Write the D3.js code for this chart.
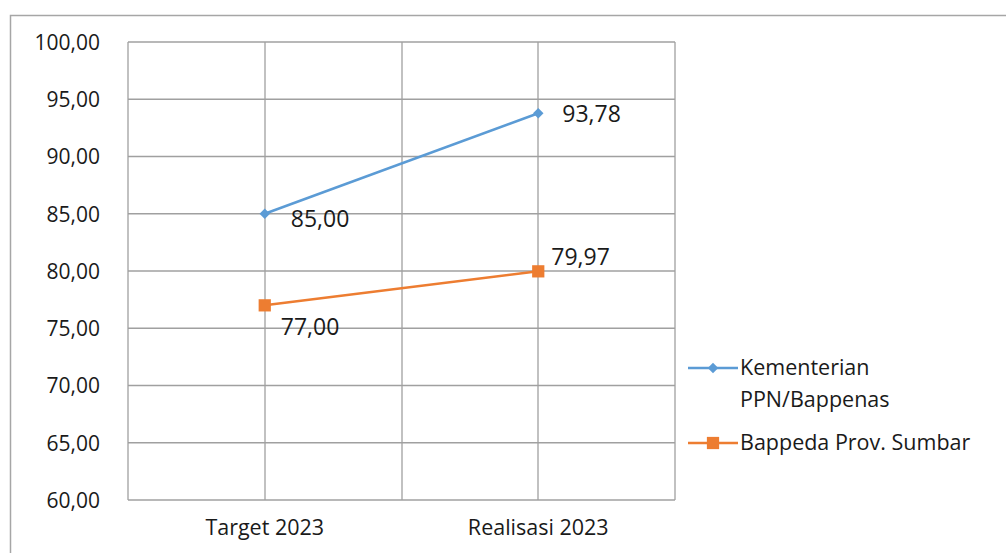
<!DOCTYPE html>
<html>
<head>
<meta charset="utf-8">
<script src="https://cdn.jsdelivr.net/npm/d3@7"></script>
<style>
  html, body { margin: 0; padding: 0; background: #fff; }
  svg { display: block; }
  text { font-family: "Open Sans", "Noto Sans", sans-serif; fill: #1a1a1a; }
</style>
</head>
<body>
<svg id="chart" width="1006" height="553"></svg>
<script>
// Categories and series values
const categories = ["Target 2023", "Realisasi 2023"];
const seriesNames = ["Kementerian PPN/Bappenas", "Bappeda Prov. Sumbar"];
const kementerianValues = [85.00, 93.78];
const bappedaValues = [77.00, 79.97];
const yTicks = [60, 65, 70, 75, 80, 85, 90, 95, 100];

const fmt = v => v.toFixed(2).replace(".", ",");

const svg = d3.select("#chart");
const W = 1006, H = 553;
const plot = { left: 128, right: 675, top: 42, bottom: 500 };

// Outer chart frame (left and top edges)
svg.append("path")
  .attr("d", `M10.5,${H} L10.5,15.5 L${W},15.5`)
  .attr("fill", "none").attr("stroke", "#a6a6a6").attr("stroke-width", 1.5);

const x = d3.scaleBand().domain(categories).range([plot.left, plot.right]).padding(0);
const y = d3.scaleLinear().domain([60, 100]).range([plot.bottom, plot.top]);
const cx = c => x(c) + x.bandwidth() / 2;

const grid = svg.append("g").attr("stroke", "#a0a0a0").attr("stroke-width", 1.3);
// Horizontal gridlines
yTicks.forEach(t => {
  grid.append("line").attr("x1", plot.left).attr("x2", plot.right)
    .attr("y1", y(t)).attr("y2", y(t));
});
// Vertical gridlines: band edges and category centres
const vx = [plot.left, plot.right];
categories.forEach(c => { vx.push(x(c) + x.bandwidth()); vx.push(cx(c)); });
Array.from(new Set(vx.map(Math.round))).forEach(v => {
  grid.append("line").attr("x1", v).attr("x2", v)
    .attr("y1", plot.top).attr("y2", plot.bottom);
});

// Y axis labels
const yAxis = d3.axisLeft(y).tickValues(yTicks).tickFormat(fmt).tickSize(0).tickPadding(0);
const yg = svg.append("g").attr("transform", `translate(${plot.left - 28},0)`).call(yAxis);
yg.select(".domain").remove();
yg.selectAll("text").style("font-size", "21px").attr("fill", "#1a1a1a")
  .attr("font-family", null).attr("dy", "0.35em");

// X axis labels
const xAxis = d3.axisBottom(x).tickSize(0).tickPadding(0);
const xg = svg.append("g").attr("transform", `translate(0,${plot.bottom + 19})`).call(xAxis);
xg.select(".domain").remove();
xg.selectAll("text").style("font-size", "21.5px").attr("fill", "#1a1a1a")
  .attr("font-family", null).attr("dy", "0.75em");

const blue = "#5b9bd5", orange = "#ed7d31";
const line = d3.line().x((d, i) => cx(categories[i])).y(d => y(d));

// Series lines
svg.append("path").datum(kementerianValues).attr("d", line)
  .attr("fill", "none").attr("stroke", blue).attr("stroke-width", 2.5);
svg.append("path").datum(bappedaValues).attr("d", line)
  .attr("fill", "none").attr("stroke", orange).attr("stroke-width", 2.5);

const diamond = d3.symbol().type(d3.symbolDiamond2).size(70);
const square = d3.symbol().type(d3.symbolSquare).size(150);

// Markers
kementerianValues.forEach((v, i) => {
  svg.append("path").attr("d", diamond())
    .attr("transform", `translate(${cx(categories[i])},${y(v)})`).attr("fill", blue);
});
bappedaValues.forEach((v, i) => {
  svg.append("path").attr("d", square())
    .attr("transform", `translate(${cx(categories[i])},${y(v)})`).attr("fill", orange);
});

// Data labels
const labelStyle = sel => sel.style("font-size", "23px").attr("dy", "0.35em");
const kOffsets = [[26, 5], [24, 1]];
const bOffsets = [[16, 22], [13, -14]];
kementerianValues.forEach((v, i) => {
  svg.append("text").attr("x", cx(categories[i]) + kOffsets[i][0]).attr("y", y(v) + kOffsets[i][1])
    .text(fmt(v)).call(labelStyle);
});
bappedaValues.forEach((v, i) => {
  svg.append("text").attr("x", cx(categories[i]) + bOffsets[i][0]).attr("y", y(v) + bOffsets[i][1])
    .text(fmt(v)).call(labelStyle);
});

// Legend
const lg = svg.append("g");
const legendItems = [
  { color: blue, sym: diamond, y: 368, lines: ["Kementerian", "PPN/Bappenas"] },
  { color: orange, sym: square, y: 443, lines: ["Bappeda Prov. Sumbar"] }
];
legendItems.forEach(it => {
  lg.append("line").attr("x1", 688).attr("x2", 738).attr("y1", it.y).attr("y2", it.y)
    .attr("stroke", it.color).attr("stroke-width", 2.5);
  lg.append("path").attr("d", it.sym()).attr("transform", `translate(713,${it.y})`).attr("fill", it.color);
  it.lines.forEach((t, k) => {
    lg.append("text").attr("x", 740).attr("y", it.y - 1 + k * 32).attr("dy", "0.35em")
      .style("font-size", "21.5px").text(t);
  });
});
</script>
</body>
</html>
